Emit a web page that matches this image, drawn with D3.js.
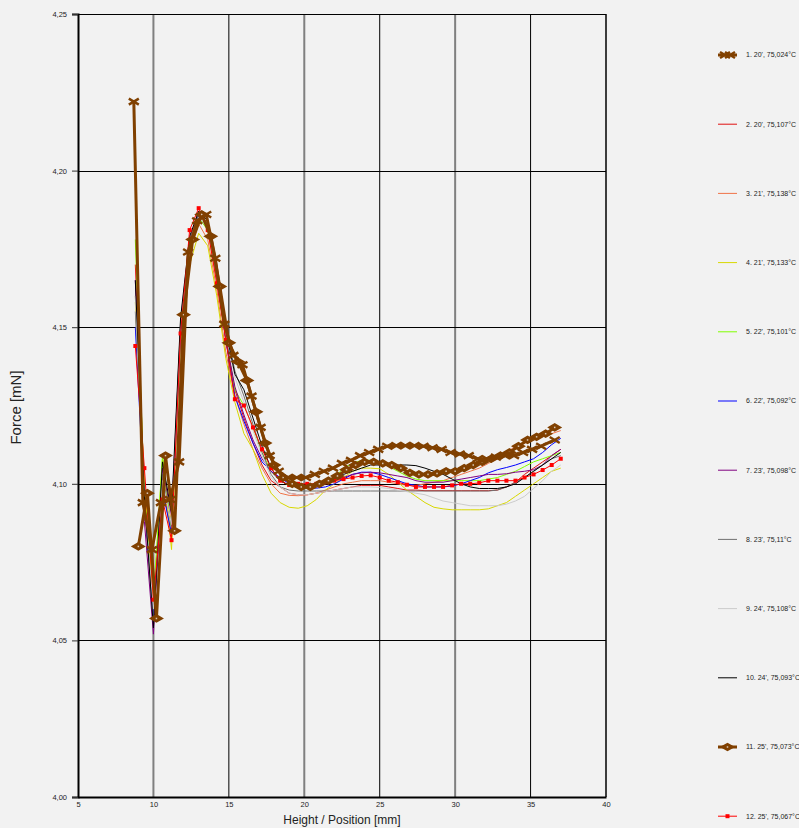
<!DOCTYPE html>
<html>
<head>
<meta charset="utf-8">
<script src="https://cdn.jsdelivr.net/npm/d3@7"></script>
<style>
  html, body { margin: 0; padding: 0; background: #f2f2f2; }
  svg { display: block; }
  text { font-family: "Liberation Sans Narrow", "Liberation Sans", Arial, sans-serif; fill: #222; }
</style>
</head>
<body>
<svg id="chart"></svg>
<script>
// positions along the sample (mm)
const xSeries1 = [8.7, 9.3, 9.9, 10.5, 11.1, 11.7, 12.3, 12.9, 13.5, 14.1, 14.7, 15.3, 15.9, 16.5, 17.1, 17.7, 18.3, 18.9, 19.5, 20.1, 20.7, 21.3, 21.9, 22.5, 23.1, 23.7, 24.3, 24.9, 25.5, 26.1, 26.7, 27.3, 27.9, 28.5, 29.1, 29.7, 30.3, 30.9, 31.5, 32.1, 32.7, 33.3, 33.9, 34.5, 35.1, 35.7, 36.6];
const xSeries11 = [9.0, 9.6, 10.2, 10.8, 11.4, 12.0, 12.6, 13.2, 13.8, 14.4, 15.0, 15.6, 16.2, 16.8, 17.4, 18.0, 18.6, 19.2, 19.8, 20.4, 21.0, 21.6, 22.2, 22.8, 23.4, 24.0, 24.6, 25.2, 25.8, 26.4, 27.0, 27.6, 28.2, 28.8, 29.4, 30.0, 30.6, 31.2, 31.8, 32.4, 33.0, 33.6, 34.2, 34.8, 35.4, 36.0, 36.6];
const xThin = [8.8, 9.4, 10.0, 10.6, 11.2, 11.8, 12.4, 13.0, 13.6, 14.2, 14.8, 15.4, 16.0, 16.6, 17.2, 17.8, 18.4, 19.0, 19.6, 20.2, 20.8, 21.4, 22.0, 22.6, 23.2, 23.8, 24.4, 25.0, 25.6, 26.2, 26.8, 27.4, 28.0, 28.6, 29.2, 29.8, 30.4, 31.0, 31.6, 32.2, 32.8, 33.4, 34.0, 34.6, 35.2, 35.8, 36.4, 37.0];

// force values (mN)
const f1 = [4.222, 4.094, 4.079, 4.094, 4.095, 4.107, 4.174, 4.184, 4.186, 4.172, 4.151, 4.141, 4.138, 4.128, 4.118, 4.109, 4.104, 4.102, 4.102, 4.102, 4.103, 4.104, 4.105, 4.1065, 4.1075, 4.109, 4.110, 4.111, 4.112, 4.1122, 4.1122, 4.1122, 4.112, 4.1115, 4.111, 4.110, 4.1095, 4.109, 4.108, 4.108, 4.1085, 4.109, 4.109, 4.110, 4.111, 4.112, 4.114];
const f2 = [4.170, 4.099, 4.060, 4.100, 4.083, 4.150, 4.178, 4.187, 4.183, 4.166, 4.146, 4.130, 4.121, 4.113, 4.106, 4.101, 4.099, 4.097, 4.0965, 4.0965, 4.097, 4.0975, 4.098, 4.0985, 4.099, 4.0995, 4.0995, 4.0995, 4.099, 4.0985, 4.098, 4.098, 4.0978, 4.0978, 4.0978, 4.0978, 4.0978, 4.0978, 4.0978, 4.0978, 4.098, 4.099, 4.1005, 4.103, 4.105, 4.107, 4.109, 4.111];
const f3 = [4.160, 4.092, 4.058, 4.102, 4.088, 4.148, 4.174, 4.183, 4.178, 4.162, 4.142, 4.128, 4.119, 4.111, 4.105, 4.100, 4.097, 4.0963, 4.0962, 4.0965, 4.097, 4.098, 4.099, 4.100, 4.1005, 4.101, 4.101, 4.101, 4.1005, 4.100, 4.0995, 4.0995, 4.100, 4.1005, 4.101, 4.102, 4.103, 4.104, 4.105, 4.1065, 4.108, 4.110, 4.112, 4.113, 4.114, 4.115, 4.116, 4.117];
const f4 = [4.158, 4.100, 4.063, 4.108, 4.079, 4.145, 4.170, 4.180, 4.176, 4.160, 4.140, 4.126, 4.116, 4.111, 4.103, 4.097, 4.094, 4.0925, 4.0922, 4.093, 4.095, 4.098, 4.100, 4.102, 4.104, 4.105, 4.105, 4.1048, 4.103, 4.1005, 4.098, 4.096, 4.094, 4.0925, 4.092, 4.0917, 4.0917, 4.0917, 4.0917, 4.092, 4.093, 4.094, 4.096, 4.098, 4.100, 4.102, 4.104, 4.105];
const f5 = [4.178, 4.097, 4.062, 4.109, 4.085, 4.150, 4.176, 4.185, 4.181, 4.165, 4.146, 4.130, 4.125, 4.118, 4.110, 4.104, 4.101, 4.0995, 4.099, 4.0995, 4.100, 4.101, 4.102, 4.105, 4.1065, 4.1075, 4.1075, 4.107, 4.1055, 4.104, 4.1025, 4.1015, 4.101, 4.101, 4.101, 4.101, 4.101, 4.101, 4.101, 4.1015, 4.102, 4.103, 4.104, 4.1055, 4.107, 4.108, 4.109, 4.110];
const f6 = [4.150, 4.094, 4.058, 4.098, 4.084, 4.148, 4.177, 4.186, 4.183, 4.167, 4.146, 4.128, 4.120, 4.113, 4.107, 4.104, 4.102, 4.100, 4.099, 4.0988, 4.0986, 4.099, 4.100, 4.1015, 4.103, 4.1037, 4.1037, 4.103, 4.102, 4.101, 4.100, 4.0995, 4.099, 4.099, 4.099, 4.0993, 4.100, 4.101, 4.102, 4.1035, 4.1045, 4.1052, 4.106, 4.107, 4.108, 4.110, 4.1125, 4.1145];
const f7 = [4.165, 4.088, 4.052, 4.105, 4.090, 4.150, 4.176, 4.185, 4.182, 4.166, 4.146, 4.131, 4.122, 4.114, 4.108, 4.104, 4.101, 4.0995, 4.099, 4.099, 4.0995, 4.100, 4.101, 4.102, 4.103, 4.1035, 4.1037, 4.1035, 4.103, 4.1025, 4.102, 4.101, 4.1005, 4.1005, 4.1005, 4.101, 4.1015, 4.102, 4.1025, 4.103, 4.103, 4.1032, 4.1037, 4.104, 4.1045, 4.106, 4.109, 4.111];
const f8 = [4.155, 4.096, 4.056, 4.103, 4.086, 4.152, 4.178, 4.186, 4.183, 4.168, 4.150, 4.136, 4.128, 4.119, 4.110, 4.103, 4.099, 4.098, 4.0977, 4.0977, 4.0977, 4.0977, 4.0977, 4.0977, 4.0977, 4.0977, 4.0977, 4.0977, 4.0977, 4.0977, 4.0977, 4.0977, 4.0977, 4.0977, 4.0977, 4.0977, 4.0977, 4.0977, 4.0977, 4.0977, 4.098, 4.099, 4.1005, 4.102, 4.104, 4.106, 4.108, 4.109];
const f9 = [4.160, 4.095, 4.060, 4.101, 4.087, 4.150, 4.176, 4.185, 4.182, 4.167, 4.148, 4.134, 4.126, 4.117, 4.109, 4.102, 4.099, 4.097, 4.0965, 4.0965, 4.097, 4.0975, 4.098, 4.0985, 4.099, 4.099, 4.099, 4.0988, 4.0985, 4.098, 4.0975, 4.097, 4.0965, 4.0955, 4.0945, 4.094, 4.0935, 4.093, 4.093, 4.093, 4.093, 4.0935, 4.0945, 4.096, 4.0985, 4.101, 4.104, 4.106];
const f10 = [4.165, 4.096, 4.054, 4.107, 4.091, 4.153, 4.179, 4.187, 4.184, 4.169, 4.149, 4.135, 4.130, 4.121, 4.112, 4.105, 4.101, 4.0995, 4.099, 4.099, 4.100, 4.101, 4.102, 4.103, 4.104, 4.105, 4.106, 4.106, 4.106, 4.106, 4.106, 4.1058, 4.105, 4.104, 4.103, 4.1015, 4.100, 4.099, 4.0985, 4.0985, 4.0985, 4.099, 4.100, 4.102, 4.104, 4.106, 4.108, 4.110];
const f11 = [4.080, 4.097, 4.057, 4.109, 4.085, 4.154, 4.178, 4.186, 4.179, 4.163, 4.145, 4.139, 4.133, 4.123, 4.113, 4.106, 4.102, 4.100, 4.099, 4.099, 4.100, 4.101, 4.1025, 4.1045, 4.106, 4.107, 4.107, 4.1065, 4.106, 4.105, 4.1035, 4.103, 4.103, 4.1033, 4.104, 4.104, 4.105, 4.106, 4.107, 4.108, 4.109, 4.110, 4.112, 4.114, 4.115, 4.116, 4.118];
const f12 = [4.144, 4.105, 4.063, 4.095, 4.082, 4.148, 4.181, 4.188, 4.181, 4.164, 4.146, 4.127, 4.125, 4.118, 4.111, 4.105, 4.101, 4.0996, 4.100, 4.100, 4.100, 4.1005, 4.101, 4.1015, 4.102, 4.1025, 4.1027, 4.102, 4.101, 4.1005, 4.0997, 4.099, 4.099, 4.099, 4.099, 4.0995, 4.100, 4.100, 4.1003, 4.101, 4.101, 4.101, 4.101, 4.102, 4.103, 4.1044, 4.106, 4.108];

const seriesNames = ["1. 20', 75,024°C", "2. 20', 75,107°C", "3. 21', 75,138°C", "4. 21', 75,133°C",
  "5. 22', 75,101°C", "6. 22', 75,092°C", "7. 23', 75,098°C", "8. 23', 75,11°C",
  "9. 24', 75,108°C", "10. 24', 75,093°C", "11. 25', 75,073°C", "12. 25', 75,067°C"];
const xTicks = [5, 10, 15, 20, 25, 30, 35, 40];
const yTicks = [4.00, 4.05, 4.10, 4.15, 4.20, 4.25];
const yTickLabels = ["4,00", "4,05", "4,10", "4,15", "4,20", "4,25"];

const seriesX = [xSeries1, xThin, xThin, xThin, xThin, xThin, xThin, xThin, xThin, xThin, xSeries11, xThin];
const seriesY = [f1, f2, f3, f4, f5, f6, f7, f8, f9, f10, f11, f12];
const colors = ["#804000", "#e01010", "#f07448", "#d8d800", "#80ff00", "#0000ff", "#800080", "#707070", "#cccccc", "#000000", "#804000", "#ff0000"];
const markers = ["cross", null, null, null, null, null, null, null, null, null, "diamond", "square"];

const series = seriesNames.map((name, i) => ({
  name, color: colors[i], marker: markers[i],
  points: seriesX[i].map((x, j) => ({ x, y: seriesY[i][j] }))
}));

const W = 799, H = 828;
const margin = { top: 14, right: 193, bottom: 31, left: 78 };
const width = W - margin.left - margin.right;
const height = H - margin.top - margin.bottom;

const svg = d3.select("#chart").attr("width", W).attr("height", H);
svg.append("rect").attr("width", W).attr("height", H).attr("fill", "#f2f2f2");

const g = svg.append("g").attr("transform", `translate(${margin.left},${margin.top})`);

const x = d3.scaleLinear().domain([5, 40]).range([0, width]);
const y = d3.scaleLinear().domain([4.00, 4.25]).range([height, 0]);

// grid
g.selectAll(".vgrid").data(xTicks.slice(1, -1)).enter().append("line")
  .attr("x1", d => x(d)).attr("x2", d => x(d)).attr("y1", 0).attr("y2", height)
  .attr("stroke", d => d % 10 === 0 ? "#808080" : "#000")
  .attr("stroke-width", d => d % 10 === 0 ? 2 : 1);
g.selectAll(".hgrid").data(yTicks.slice(1, -1)).enter().append("line")
  .attr("x1", 0).attr("x2", width).attr("y1", d => Math.round(y(d)) + 0.5).attr("y2", d => Math.round(y(d)) + 0.5)
  .attr("stroke", "#000").attr("stroke-width", 1);

// frame
g.append("line").attr("x1", 0).attr("x2", width).attr("y1", 0.5).attr("y2", 0.5).attr("stroke", "#000");
g.append("line").attr("x1", width).attr("x2", width).attr("y1", 0).attr("y2", height).attr("stroke", "#000").attr("stroke-width", 1.5);

// axes
const yAxis = g.append("g")
  .call(d3.axisLeft(y).tickValues(yTicks).tickSize(6).tickFormat((d, i) => yTickLabels[i]));
const xAxis = g.append("g").attr("transform", `translate(0,${height})`)
  .call(d3.axisBottom(x).tickValues(xTicks).tickSize(0).tickPadding(5));
[yAxis, xAxis].forEach(a => {
  a.select(".domain").attr("stroke", "#000").attr("stroke-width", 2);
  a.selectAll(".tick line").attr("stroke", "#333");
  a.selectAll("text").style("font-size", "7.5px").attr("fill", "#333");
});
yAxis.selectAll("text").attr("x", -11).attr("dy", "0.32em");

// lines
const line = d3.line().x(d => x(d.x)).y(d => y(d.y));
const drawOrder = [1, 2, 3, 4, 5, 6, 7, 8, 9, 11, 10, 0];
const plot = g.append("g");
drawOrder.forEach(i => {
  const s = series[i];
  const thick = s.marker === "cross" || s.marker === "diamond";
  plot.append("path").datum(s.points)
    .attr("fill", "none").attr("stroke", s.color)
    .attr("stroke-width", thick ? 3 : 1)
    .attr("stroke-linejoin", "round")
    .attr("d", line);
  drawMarkers(plot, s.points.map(p => [x(p.x), y(p.y)]), s.marker, s.color);
});

function drawMarkers(sel, pts, marker, color) {
  if (!marker) return;
  const mg = sel.append("g");
  pts.forEach(([px, py]) => {
    if (marker === "cross") {
      mg.append("path").attr("d", `M${px - 5},${py - 3}L${px + 5},${py + 3}M${px - 5},${py + 3}L${px + 5},${py - 3}`)
        .attr("stroke", color).attr("stroke-width", 2.5).attr("fill", "none");
    } else if (marker === "diamond") {
      mg.append("path").attr("d", `M${px - 6},${py}L${px},${py - 3.5}L${px + 6},${py}L${px},${py + 3.5}Z`)
        .attr("stroke", color).attr("stroke-width", 1.5).attr("fill", color);
      mg.append("rect").attr("x", px - 0.75).attr("y", py - 0.75).attr("width", 1.5).attr("height", 1.5)
        .attr("fill", "#d8c8b8");
    } else if (marker === "square") {
      mg.append("rect").attr("x", px - 2).attr("y", py - 2).attr("width", 4).attr("height", 4).attr("fill", color);
    }
  });
}

// axis titles
svg.append("text").attr("x", margin.left + width / 2).attr("y", 824)
  .attr("text-anchor", "middle").style("font-size", "12px").text("Height / Position [mm]");
svg.append("text").attr("transform", `translate(21,${margin.top + height / 2 + 2}) rotate(-90)`)
  .attr("text-anchor", "middle").style("font-size", "15px").text("Force [mN]");

// legend
const legend = svg.append("g").attr("transform", "translate(718,55)");
series.forEach((s, i) => {
  const ly = i * 69.2;
  const lg = legend.append("g").attr("transform", `translate(0,${ly})`);
  const thick = s.marker === "cross" || s.marker === "diamond";
  lg.append("line").attr("x1", 0).attr("x2", 19).attr("y1", 0).attr("y2", 0)
    .attr("stroke", s.color).attr("stroke-width", thick ? 3 : 1);
  if (s.marker === "cross") drawMarkers(lg, [[7, 0], [12, 0]], "cross", s.color);
  else if (s.marker) drawMarkers(lg, [[9.5, 0]], s.marker, s.color);
  lg.append("text").attr("x", 28).attr("y", 0).attr("dy", "0.35em")
    .style("font-size", "7px").attr("fill", "#333").text(s.name);
});
</script>
</body>
</html>
